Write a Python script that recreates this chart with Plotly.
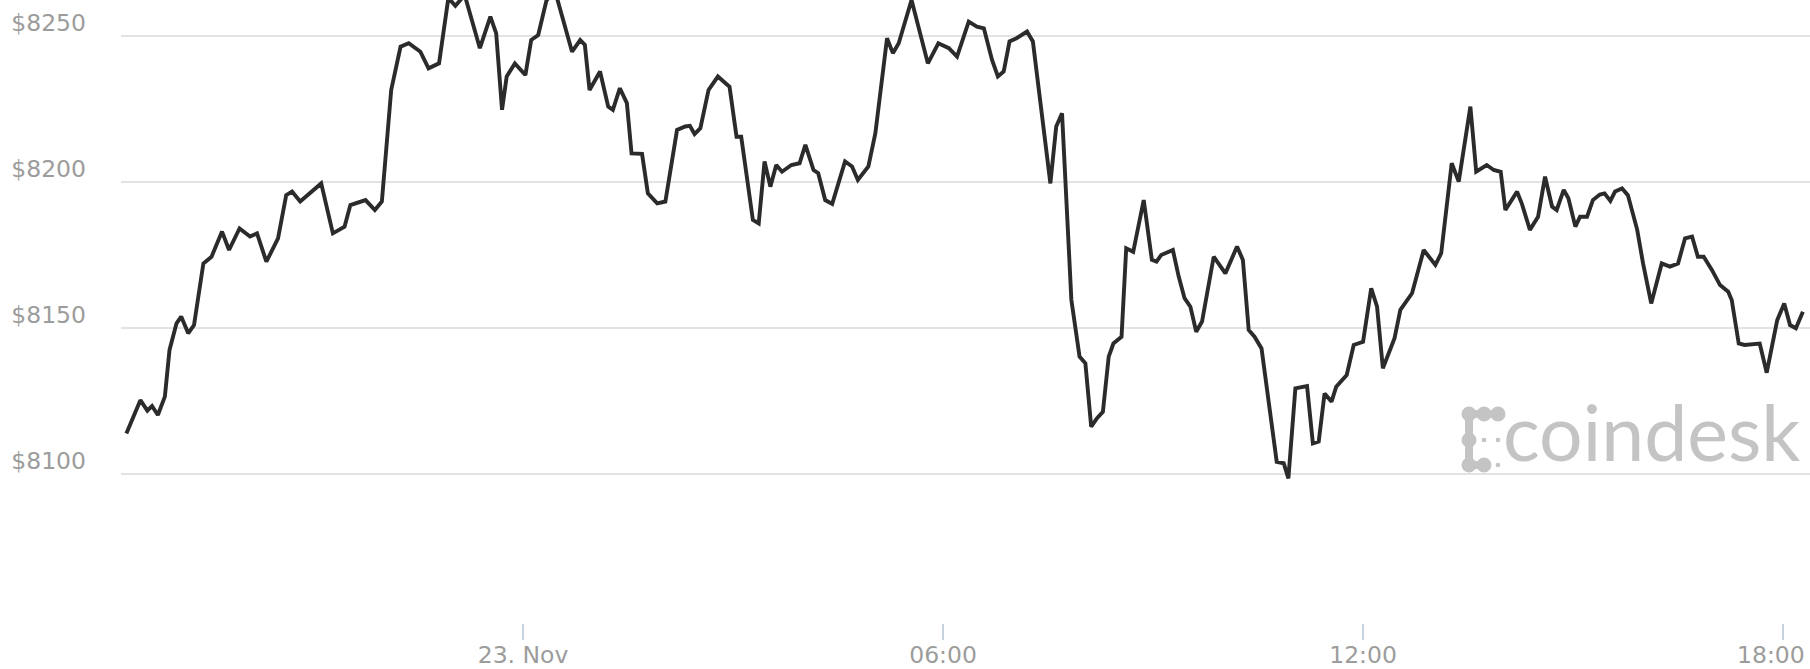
import pandas as pd
import plotly.graph_objects as go

# ---- data ----
base_day = "2017-11-23 00:00"
# minutes relative to 23 Nov 00:00
minutes = [
    -340, -328, -322, -318, -313, -307, -303, -297, -293, -287,
    -282, -274, -267, -258, -252, -243, -234, -228, -220, -210,
    -203, -198, -191, -173, -163, -153, -148, -135, -127, -121, -113,
    -105, -98, -88, -81, -72, -64, -58, -50, -37, -28,
    -23, -18, -14, -7, 2, 7, 13, 20, 27, 42,
    49, 53, 57, 66, 73, 77, 83, 89, 93, 102, 107, 115, 122, 132,
    139, 143, 147, 152, 159, 167, 177, 183, 187, 197,
    202, 207, 212, 217, 222, 230, 237, 242, 249, 253,
    259, 265, 276, 282, 287, 296, 302, 312, 317, 322,
    333, 347, 356, 365, 372, 382,
    389, 395, 402, 407, 412, 417, 423, 432, 437, 452,
    457, 462, 470, 477, 482, 487, 492, 497, 502, 506,
    513, 517, 523, 532, 539, 543, 547, 557, 562, 567,
    572, 577, 582, 592, 602, 612, 617, 622,
    627, 633, 640, 646, 652, 656, 662, 672, 677, 682,
    687, 693, 697, 706, 712, 720, 727, 732, 737, 742,
    747, 752, 762, 772, 782, 787, 796, 802, 812, 817,
    826, 832, 838, 842, 852, 856,
    863, 870, 876, 882, 886, 892, 896, 902, 906, 912,
    917, 923, 927, 932, 936, 942, 947, 955, 960, 967,
    976, 983, 990, 996, 1002, 1007, 1012, 1019, 1026, 1033,
    1036, 1042, 1047, 1060, 1066, 1075, 1081, 1086, 1091, 1097,
]
prices = [
    8113.9, 8125.3, 8121.7, 8123.3, 8120.2, 8126.5, 8142.5, 8151.6, 8153.9, 8148.2,
    8151.0, 8172.1, 8174.4, 8183.0, 8176.7, 8184.1, 8181.3, 8182.4, 8172.7, 8180.7,
    8195.5, 8196.7, 8193.3, 8199.5, 8182.4, 8184.7, 8192.1, 8193.8, 8190.4, 8193.3, 8231.5,
    8246.3, 8247.5, 8244.6, 8238.9, 8240.6, 8263.0, 8260.3, 8264.0, 8245.8, 8256.6,
    8250.9, 8224.7, 8236.1, 8240.6, 8236.6, 8248.6, 8250.3, 8262.0, 8266.0, 8244.6,
    8248.6, 8246.9, 8231.5, 8237.8, 8225.8, 8224.7, 8232.1, 8227.0, 8209.8, 8209.6,
    8196.1, 8192.7, 8193.3, 8217.8,
    8219.0, 8219.2, 8216.4, 8218.4, 8231.5, 8236.1, 8232.6, 8215.5, 8215.5, 8187.0,
    8185.8, 8207.0, 8198.4, 8205.8, 8203.5, 8205.8, 8206.4, 8212.7, 8204.1, 8203.0,
    8193.8, 8192.5, 8207.0, 8205.3, 8200.7, 8205.3, 8216.7, 8249.2, 8244.1, 8247.5,
    8262.3, 8240.6, 8247.5, 8245.8, 8242.9, 8254.9,
    8253.2, 8252.6, 8241.8, 8236.1, 8237.8, 8248.1, 8249.2, 8251.5, 8248.1, 8199.5,
    8219.0, 8223.5, 8159.6, 8140.2, 8137.9, 8116.2, 8119.1, 8121.3, 8140.2, 8144.7,
    8147.0, 8177.3, 8176.1, 8193.8, 8173.3, 8172.7, 8175.0, 8176.7, 8167.6, 8160.2,
    8157.3, 8148.7, 8152.2, 8174.4, 8168.7, 8177.9, 8173.3, 8149.3,
    8147.0, 8143.0, 8120.8, 8104.2, 8103.7, 8098.5, 8129.3, 8130.1, 8110.5, 8111.1,
    8127.6, 8124.8, 8129.9, 8133.9, 8144.2, 8145.3, 8163.6, 8157.3, 8136.2, 8141.3,
    8146.5, 8156.2, 8161.9, 8176.7, 8171.6, 8175.6, 8206.4, 8200.1, 8225.8, 8203.5,
    8205.8, 8204.1, 8203.5, 8190.4, 8196.7, 8192.7,
    8183.6, 8188.1, 8201.8, 8191.6, 8190.4, 8197.3, 8194.4, 8184.7, 8188.1, 8188.1,
    8193.8, 8195.7, 8196.1, 8193.5, 8196.7, 8197.8, 8195.5, 8183.6, 8172.1, 8158.4,
    8172.1, 8171.0, 8172.1, 8180.7, 8181.3, 8174.4, 8174.4, 8169.9, 8164.7, 8162.4,
    8159.6, 8144.7, 8144.2, 8144.7, 8134.7, 8152.7, 8158.4, 8151.0, 8149.9, 8155.6,
]
x_tick_values = ["2017-11-23 00:00", "2017-11-23 06:00", "2017-11-23 12:00", "2017-11-23 18:00"]
x_tick_labels = ["23. Nov", "06:00", "12:00", "18:00"]
y_tick_values = [8100, 8150, 8200, 8250]
y_tick_labels = ["$8100", "$8150", "$8200", "$8250"]

times = pd.Timestamp(base_day) + pd.to_timedelta(minutes, unit="m")

W, H = 1810, 669
ML, MR, MT, MB = 121, 0, 0, 46
PW, PH = W - ML - MR, H - MT - MB

fig = go.Figure()
fig.add_trace(go.Scatter(
    x=times, y=prices, mode="lines",
    line=dict(color="#2b2b2b", width=3.9),
    hoverinfo="skip", showlegend=False,
))

label_font = dict(family="DejaVu Sans, Verdana, sans-serif", size=23.5, color="#9c9c9c")

# the last x label sits at the right edge; like the reference it is drawn
# nudged left so it stays inside the chart, the others are normal tick labels
axis_text = x_tick_labels[:-1] + [""]

fig.update_layout(
    width=W, height=H,
    margin=dict(l=ML, r=MR, t=MT, b=MB, autoexpand=False),
    paper_bgcolor="white", plot_bgcolor="white",
    xaxis=dict(
        type="date",
        range=["2017-11-22 18:15:24", "2017-11-23 18:23:06"],
        tickvals=x_tick_values, ticktext=axis_text,
        ticks="outside", ticklen=16, tickwidth=2, tickcolor="#c8d2de",
        ticklabelstandoff=-5,
        ticklabeloverflow="allow", automargin=False,
        showgrid=False, showline=False, zeroline=False,
        tickfont=label_font,
    ),
    yaxis=dict(
        range=[8049.0, 8262.3],
        tickvals=y_tick_values, ticktext=y_tick_labels,
        ticklabelposition="outside top",
        ticklabelstandoff=34,
        ticklabelshift=3,
        ticklabeloverflow="allow", automargin=False,
        showgrid=True, gridcolor="#e3e3e3", gridwidth=2,
        showline=False, zeroline=False, ticks="",
        tickfont=label_font,
    ),
)
fig.add_annotation(
    xref="x", yref="paper", x=x_tick_values[-1], y=0,
    xanchor="center", yanchor="middle", xshift=-12, yshift=-32,
    text=x_tick_labels[-1], showarrow=False, font=label_font,
)

# ---- coindesk watermark (decoration) ----
def px(xp):
    return (xp - ML) / PW

def py(yp):
    return 1 - (yp - MT) / PH

logo_grey = "#c4c4c4"
c1, c2, c3 = 1469, 1484, 1498
r1, r2, r3 = 414, 440, 465
shapes = []
big = [(c1, r1), (c2, r1), (c3, r1), (c1, r2), (c1, r3), (c2, r3)]
links = [((c1, r1), (c3, r1)), ((c1, r1), (c1, r3)), ((c1, r3), (c2, r3))]
for (a, b) in links:
    shapes.append(dict(type="line", xref="paper", yref="paper",
                       x0=px(a[0]), y0=py(a[1]), x1=px(b[0]), y1=py(b[1]),
                       line=dict(color=logo_grey, width=8), layer="above"))
r = 7.5
for (cx, cy) in big:
    shapes.append(dict(type="circle", xref="paper", yref="paper",
                       x0=px(cx - r), x1=px(cx + r), y0=py(cy + r), y1=py(cy - r),
                       fillcolor=logo_grey, line=dict(width=0), layer="above"))
rs = 2.3
for (cx, cy) in [(c2, r2), (c3, r2), (c3, r3)]:
    shapes.append(dict(type="circle", xref="paper", yref="paper",
                       x0=px(cx - rs), x1=px(cx + rs), y0=py(cy + rs), y1=py(cy - rs),
                       fillcolor=logo_grey, line=dict(width=0), layer="above"))
fig.update_layout(shapes=shapes)
fig.add_annotation(
    xref="paper", yref="paper", x=px(1802), y=py(462),
    xanchor="right", yanchor="bottom", yshift=-17,
    text="coindesk", showarrow=False,
    font=dict(family="Lato, Open Sans, sans-serif", size=77, color="#c4c4c4"),
)

fig.write_html(
    "out.html",
    config={"displayModeBar": False},
    post_script="document.body.style.margin='0';document.body.style.overflow='hidden';",
)
